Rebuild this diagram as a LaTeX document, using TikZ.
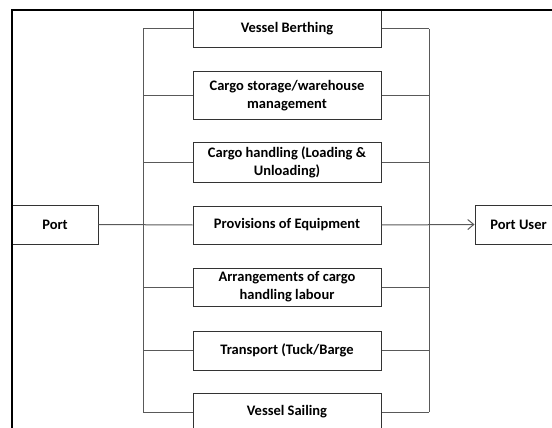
\documentclass[tikz,border=0pt]{standalone}
\usepackage{fontspec}
\setmainfont{Carlito}
\usetikzlibrary{arrows.meta}
\begin{document}
\begin{tikzpicture}[x=1pt,y=-1pt,
  box/.style={draw=black!80, line width=1pt, minimum width=188pt, minimum height=38pt, align=center,
    font=\fontsize{14.5}{18}\selectfont\bfseries, inner sep=0pt, fill=white},
  conn/.style={draw=black!65, line width=1pt},
  frameline/.style={draw=black, line width=2pt}]
\useasboundingbox (0,0) rectangle (552,428);
\clip (0,0) rectangle (552,428);
\node[box] (b1) at (287,29) {Vessel Berthing};
\node[box, minimum height=47pt] (b2) at (287,95.5) {Cargo storage/warehouse\\management};
\node[box, minimum height=40pt] (b3) at (287,162) {Cargo handling (Loading \&\\Unloading)};
\node[box] (b4) at (287,225) {Provisions of Equipment};
\node[box] (b5) at (287,287) {Arrangements of cargo\\handling labour};
\node[box, minimum height=39pt] (b6) at (287,350.5) {Transport (Tuck/Barge};
\node[box] (b7) at (287,412) {Vessel Sailing};
\node[box, minimum width=86pt, minimum height=39pt] (port) at (55,224.5) {Port};
\node[box, minimum width=87pt, minimum height=39pt] (user) at (518.5,224.5) {Port User};
\coordinate (lbus) at (143,0);
\coordinate (rbus) at (429,0);
\foreach \n in {b1,b2,b3,b5,b6,b7}{
  \draw[conn] (\n.west) -- (\n.west -| lbus);
  \draw[conn] (\n.east) -- (\n.east -| rbus);
}
\draw[conn] (b1.west -| lbus) -- (b7.west -| lbus);
\draw[conn] (b1.east -| rbus) -- (b7.east -| rbus);
\draw[conn] (port.east) -- (b4.west);
\draw[conn, -{Straight Barb[length=6pt,width=10pt]}] (b4.east) -- (user.west);
\draw[frameline] (12,600) -- (12,10) -- (600,10);
\end{tikzpicture}
\end{document}
